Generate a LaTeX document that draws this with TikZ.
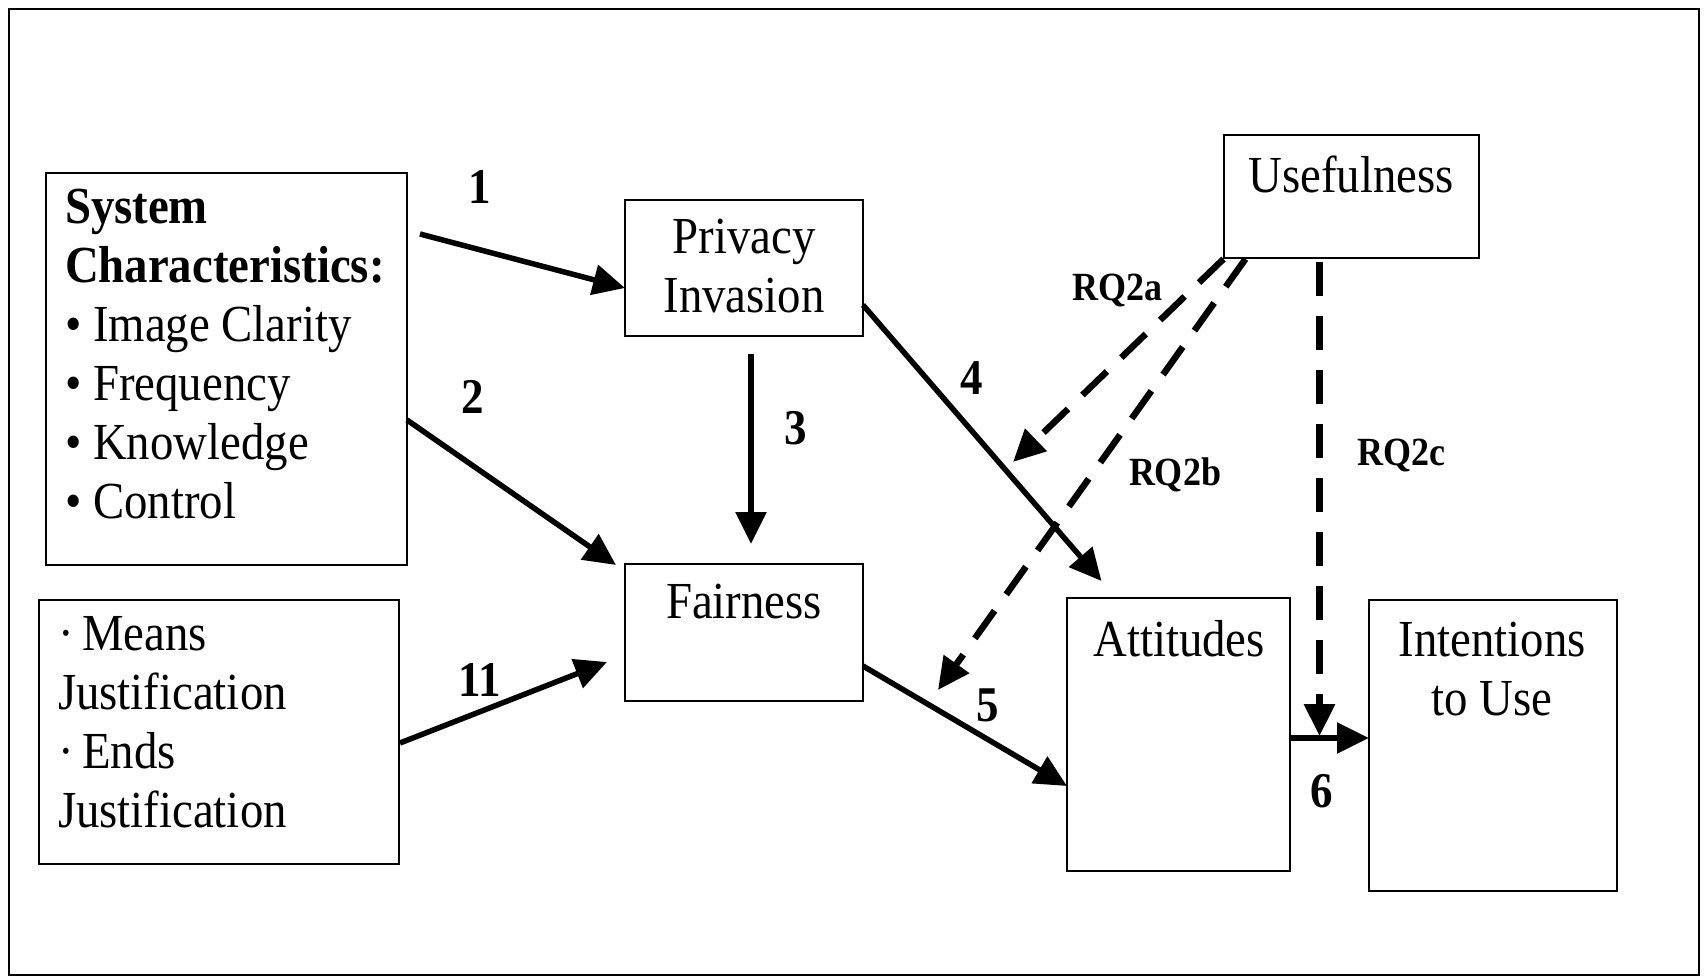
\documentclass[tikz,border=0pt]{standalone}
\usepackage{fontspec}
\setmainfont[FakeStretch=0.9]{Liberation Serif}
\usetikzlibrary{calc,arrows.meta}
\tikzset{
  box/.style={draw, line width=1.8pt, inner sep=0pt, outer sep=0pt},
  txt/.style={inner sep=0pt, outer sep=0pt, font=\fontsize{52}{59}\selectfont},
  num/.style={inner sep=0pt, font=\fontsize{50}{56}\selectfont\bfseries},
  rq/.style={inner sep=0pt, font=\fontsize{40}{46}\selectfont\bfseries},
  arr/.style={line width=5.5pt, -{Triangle[length=32pt,width=30pt]}},
  darr/.style={line width=6.5pt, dash pattern=on 34pt off 20pt, -{Triangle[length=32pt,width=30pt]}}
}
\begin{document}
\begin{tikzpicture}[x=1pt,y=-1pt]
\useasboundingbox (0,0) rectangle (1706,979);
\fill[white] (0,0) rectangle (1706,979);
\draw[line width=2pt] (9,9) rectangle (1699,975);

% boxes
\node[box, minimum width=361pt, minimum height=392pt] (sys) at (226.5,369) {};
\node[box, minimum width=360pt, minimum height=264pt] (means) at (219,732) {};
\node[box, minimum width=238pt, minimum height=136pt] (priv) at (744,268) {};
\node[box, minimum width=238pt, minimum height=137pt] (fair) at (744,632.5) {};
\node[box, minimum width=255pt, minimum height=123pt] (use) at (1351.5,196.5) {};
\node[box, minimum width=223pt, minimum height=273pt] (att) at (1178.5,734.5) {};
\node[box, minimum width=248pt, minimum height=291pt] (int) at (1493,745.5) {};

% texts (multi-line nodes: base anchor = baseline of last line)
\node[txt, anchor=base west, align=left] (sysT) at (65,518)
  {\textbf{System}\\\textbf{Characteristics:}\\• Image Clarity\\• Frequency\\• Knowledge\\• Control};
\node[txt, anchor=base west, align=left] (meansT) at (58,827)
  {·\,Means\\Justification\\·\,Ends\\Justification};
\node[txt, anchor=base, align=center] (privT) at (744,312)
  {Privacy\\Invasion};
\node[txt, anchor=base] (fairT) at (744,618) {Fairness};
\node[txt, anchor=base] (useT) at (1351,193) {Usefulness};
\node[txt, anchor=base] (attT) at (1179,656) {Attitudes};
\node[txt, anchor=base, align=center] (intT) at (1492,715)
  {Intentions\\to Use};

% connector end points
\coordinate (s1) at (420,234);
\coordinate (s3) at ($(priv.south)+(7,18)$);
\coordinate (t3) at ($(fair.north)+(7,-20)$);
\coordinate (t4) at ($(att.north)+(-77,-17)$);
\coordinate (t2) at ($(fair.north west)+(-9,1)$);
\coordinate (t11) at ($(fair.west)+(-18,29.5)$);
\coordinate (ta) at (1013,462);
\coordinate (tb) at (938,690);
\coordinate (tc) at (1319.5,736);

% solid arrows
\draw[arr] (s1) -- ($(priv.west)+(0,20)$);
\draw[arr] ($(sys.east)+(0,51)$) -- (t2);
\draw[arr] (s3) -- (t3);
\draw[arr] ($(priv.east)+(0,37)$) -- (t4);
\draw[arr] ($(fair.east)+(0,33.5)$) -- ($(att.west)+(0,51.5)$);
\draw[arr] ($(att.east)+(0,3.5)$) -- ($(int.west)+(0,-7.5)$);
\draw[arr] ($(means.east)+(1,11)$) -- (t11);

% dashed arrows
\draw[darr] ($(use.south)+(-128,1)$) -- (ta);
\draw[darr] ($(use.south)+(-106,1)$) -- (tb);
\draw[darr] ($(use.south)+(-32,4)$) -- (tc);

% labels
\node[num] (l1) at (480,187) {1};
\node[num] (l2) at (473,397) {2};
\node[num] (l3) at (796,428) {3};
\node[num] (l4) at (972,378) {4};
\node[num] (l5) at (988,705) {5};
\node[num] (l6) at (1322,791) {6};
\node[num] (l11) at (480,680) {11};
\node[rq] (la) at (1117,290) {RQ2a};
\node[rq] (lb) at (1175,475) {RQ2b};
\node[rq] (lc) at (1401,455) {RQ2c};
\end{tikzpicture}
\end{document}
